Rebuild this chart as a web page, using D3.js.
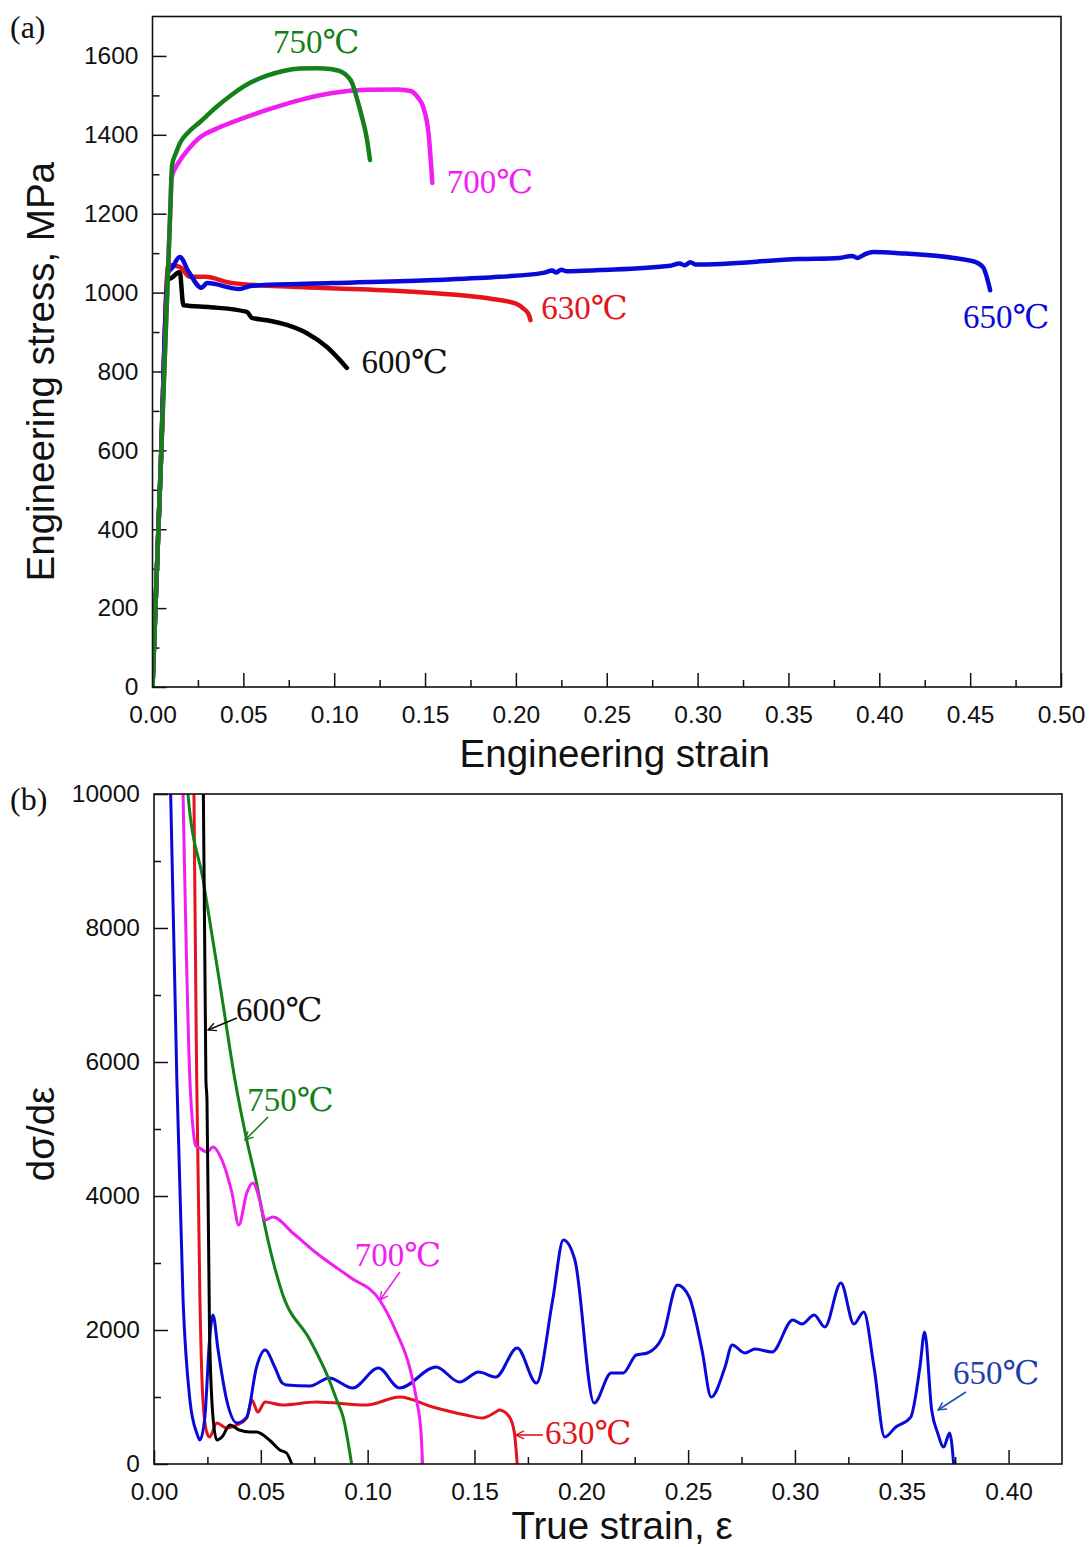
<!DOCTYPE html>
<html>
<head>
<meta charset="utf-8">
<script src="https://cdn.jsdelivr.net/npm/d3@7"></script>
<style>
  body { margin: 0; background: #fff; }
  svg { display: block; }
</style>
</head>
<body>
<svg id="chart" width="1092" height="1547"></svg>
<script>
// ---- (a) engineering stress-strain curves: [strain, stress MPa] ----
const stress600 = [[0,0],[0.0045,555],[0.0084,1032],[0.0107,1038],[0.015,1052],[0.017,968],[0.032,963],[0.052,951],[0.0547,936],[0.063,930],[0.074,918],[0.085,897],[0.096,862],[0.107,809]];
const stress630 = [[0,0],[0.0045,555],[0.0087,1070],[0.015,1065],[0.0206,1040],[0.029,1040],[0.044,1024],[0.081,1014],[0.136,1004],[0.191,981],[0.200,972],[0.204,960],[0.207,945],[0.208,930]];
const stress650 = [[0,0],[0.0045,555],[0.0085,1050],[0.0107,1062],[0.015,1090],[0.020,1052],[0.027,1012],[0.030,1024],[0.048,1009],[0.054,1017],[0.099,1024],[0.155,1032],[0.191,1040],[0.215,1050],[0.220,1056],[0.222,1051],[0.225,1058],[0.228,1054],[0.246,1057],[0.285,1068],[0.290,1074],[0.293,1069],[0.296,1077],[0.299,1071],[0.356,1085],[0.378,1088],[0.385,1093],[0.388,1088],[0.392,1097],[0.3966,1103],[0.411,1100],[0.451,1080],[0.457,1065],[0.461,1006]];
const stress700 = [[0,0],[0.0045,555],[0.0100,1235],[0.01045,1290],[0.0125,1315],[0.0151,1335],[0.020,1365],[0.026,1393],[0.035,1415],[0.044,1432],[0.063,1463],[0.081,1488],[0.099,1506],[0.118,1514],[0.135,1515],[0.142,1511],[0.146,1495],[0.149,1470],[0.152,1400],[0.154,1278]];
const stress750 = [[0,0],[0.0045,555],[0.0100,1235],[0.0107,1321],[0.0130,1355],[0.0151,1379],[0.020,1408],[0.026,1432],[0.035,1470],[0.044,1503],[0.053,1530],[0.063,1550],[0.072,1562],[0.081,1568],[0.090,1569],[0.099,1566],[0.104,1560],[0.107,1550],[0.110,1530],[0.112,1500],[0.115,1450],[0.118,1390],[0.1197,1336]];

// ---- (b) work hardening rate: [true strain, dσ/dε] ----
const rate600 = [[0.0229,11000],[0.0231,10000],[0.0243,5731],[0.0248,5433],[0.026,1955],[0.0276,702],[0.0294,358],[0.0318,403],[0.0355,582],[0.040,507],[0.0449,478],[0.048,478],[0.054,358],[0.0589,209],[0.062,164],[0.0645,0]];
const rate630 = [[0.0185,11000],[0.0187,10000],[0.020,5731],[0.0215,2448],[0.0229,955],[0.0248,463],[0.026,403],[0.0294,612],[0.034,537],[0.0388,582],[0.0434,686],[0.0458,955],[0.0486,776],[0.052,925],[0.060,880],[0.076,925],[0.0995,880],[0.115,1000],[0.1304,851],[0.146,731],[0.1537,686],[0.160,776],[0.1617,806],[0.1664,701],[0.1687,463],[0.170,0]];
const rate650 = [[0.0070,11000],[0.0078,10000],[0.0107,5731],[0.0136,2448],[0.0168,955],[0.020,463],[0.0215,358],[0.0238,700],[0.026,1850],[0.0276,2224],[0.030,1700],[0.034,955],[0.0388,612],[0.0434,700],[0.048,1448],[0.052,1700],[0.0565,1448],[0.060,1209],[0.062,1180],[0.073,1164],[0.082,1284],[0.093,1134],[0.105,1433],[0.115,1134],[0.132,1448],[0.143,1224],[0.152,1373],[0.160,1298],[0.170,1731],[0.179,1209],[0.1866,2448],[0.1916,3343],[0.197,3045],[0.206,910],[0.214,1358],[0.2196,1358],[0.2257,1627],[0.231,1657],[0.238,1896],[0.245,2672],[0.2505,2493],[0.2565,1701],[0.2608,1000],[0.2673,1448],[0.2706,1776],[0.2766,1657],[0.2813,1716],[0.2893,1672],[0.299,2149],[0.3033,2090],[0.309,2224],[0.314,2045],[0.3215,2701],[0.3276,2090],[0.3322,2269],[0.337,1448],[0.342,403],[0.3472,552],[0.3542,701],[0.3585,1448],[0.3607,1970],[0.364,806],[0.3668,463],[0.3696,254],[0.3724,463],[0.3743,0]];
const rate700 = [[0.0130,11000],[0.0136,10000],[0.0168,5731],[0.0183,5000],[0.0195,4750],[0.0206,4731],[0.0248,4657],[0.0276,4731],[0.0318,4537],[0.0365,4045],[0.0397,3567],[0.0434,4045],[0.0463,4194],[0.0495,3940],[0.052,3642],[0.0556,3687],[0.065,3448],[0.076,3149],[0.0916,2791],[0.1056,2448],[0.1136,1955],[0.1196,1448],[0.1229,955],[0.125,463],[0.1257,0]];
const rate750 = [[0.0150,11000],[0.0159,10000],[0.023,8716],[0.032,6925],[0.0379,5731],[0.0434,4836],[0.048,4194],[0.052,3537],[0.060,2552],[0.073,1851],[0.082,1254],[0.0855,955],[0.0885,702],[0.0925,0]];

// tick values
const ticksXA = [0,0.05,0.10,0.15,0.20,0.25,0.30,0.35,0.40,0.45,0.50];
const ticksYA = [0,200,400,600,800,1000,1200,1400,1600];
const ticksXB = [0,0.05,0.10,0.15,0.20,0.25,0.30,0.35,0.40];
const ticksYB = [0,2000,4000,6000,8000,10000];

const colors = { c600: "#000000", c630: "#e5141c", c650: "#0a0ad8", c700: "#f01ef0", c750: "#13801a" };

// ---- helpers ----
const svg = d3.select("#chart");
const sansFont = "'Liberation Sans', Arial, sans-serif";
const serifFont = "'Liberation Serif', 'Times New Roman', 'DejaVu Serif', serif";

const defs = svg.append("defs");

function arrowMarker(id, col) {
  defs.append("marker")
    .attr("id", id)
    .attr("viewBox", "0 0 10 10")
    .attr("refX", 9).attr("refY", 5)
    .attr("markerWidth", 10).attr("markerHeight", 10)
    .attr("markerUnits", "userSpaceOnUse")
    .attr("orient", "auto")
    .append("path")
    .attr("d", "M1,1 L9,5 L1,9")
    .attr("fill", "none")
    .attr("stroke", col)
    .attr("stroke-width", 1.4);
}

function makePanel(opt) {
  const x = d3.scaleLinear().domain(opt.xDomain).range([opt.left, opt.right]);
  const y = d3.scaleLinear().domain(opt.yDomain).range([opt.bottom, opt.top]);
  const g = svg.append("g");

  defs.append("clipPath").attr("id", opt.id + "-clip")
    .append("rect")
    .attr("x", opt.left).attr("y", opt.top)
    .attr("width", opt.right - opt.left).attr("height", opt.bottom - opt.top);

  // minor ticks
  g.append("g")
    .attr("transform", `translate(0,${opt.bottom})`)
    .call(d3.axisBottom(x).tickValues(opt.minorX).tickSize(-7).tickSizeOuter(0).tickFormat(""))
    .call(s => s.select(".domain").remove());
  g.append("g")
    .attr("transform", `translate(${opt.left},0)`)
    .call(d3.axisLeft(y).tickValues(opt.minorY).tickSize(-7).tickSizeOuter(0).tickFormat(""))
    .call(s => s.select(".domain").remove());

  // major ticks
  const ax = g.append("g")
    .attr("transform", `translate(0,${opt.bottom})`)
    .call(d3.axisBottom(x).tickValues(opt.ticksX).tickSize(-14).tickSizeOuter(0).tickPadding(19).tickFormat(d3.format(".2f")));
  const ay = g.append("g")
    .attr("transform", `translate(${opt.left},0)`)
    .call(d3.axisLeft(y).tickValues(opt.ticksY).tickSize(-14).tickSizeOuter(0).tickPadding(14).tickFormat(d3.format("d")));
  [ax, ay].forEach(a => {
    a.select(".domain").remove();
    a.selectAll("text").attr("font-family", sansFont).attr("font-size", 24.5).attr("fill", "#111");
  });
  g.selectAll(".tick line").attr("stroke", "#111").attr("stroke-width", 1.5);

  // curves
  const line = d3.line().x(d => x(d[0])).y(d => y(d[1])).curve(d3.curveMonotoneX);
  const lines = g.append("g").attr("clip-path", `url(#${opt.id}-clip)`);
  opt.series.forEach(s => {
    lines.append("path")
      .datum(s.data)
      .attr("d", line)
      .attr("fill", "none")
      .attr("stroke", s.color)
      .attr("stroke-width", opt.lineWidth)
      .attr("stroke-linejoin", "round")
      .attr("stroke-linecap", "round");
  });

  // frame
  g.append("rect")
    .attr("x", opt.left).attr("y", opt.top)
    .attr("width", opt.right - opt.left).attr("height", opt.bottom - opt.top)
    .attr("fill", "none").attr("stroke", "#111").attr("stroke-width", 1.6);

  // labels
  opt.labels.forEach(l => {
    g.append("text")
      .attr("x", x(l.at[0])).attr("y", y(l.at[1]))
      .attr("font-family", serifFont).attr("font-size", 33)
      .attr("fill", l.color)
      .text(l.text);
    if (l.arrow) {
      g.append("line")
        .attr("x1", x(l.arrow[0][0])).attr("y1", y(l.arrow[0][1]))
        .attr("x2", x(l.arrow[1][0])).attr("y2", y(l.arrow[1][1]))
        .attr("stroke", l.arrowColor || l.color).attr("stroke-width", 1.6)
        .attr("marker-end", `url(#${l.marker})`);
    }
  });

  // axis titles
  g.append("text")
    .attr("x", (opt.left + opt.right) / 2 + opt.xTitleShift).attr("y", opt.xTitleY)
    .attr("text-anchor", "middle")
    .attr("font-family", sansFont).attr("font-size", 38.5).attr("fill", "#111")
    .text(opt.xTitle);
  g.append("text")
    .attr("transform", `translate(54,${(opt.top + opt.bottom) / 2 + opt.yTitleShift}) rotate(-90)`)
    .attr("text-anchor", "middle")
    .attr("font-family", sansFont).attr("font-size", 38.5).attr("fill", "#111")
    .text(opt.yTitle);

  // panel letter
  g.append("text")
    .attr("x", 10).attr("y", opt.letterY)
    .attr("font-family", serifFont).attr("font-size", 32).attr("fill", "#111")
    .text(opt.letter);
}

arrowMarker("arr-black", "#111");
arrowMarker("arr-green", colors.c750);
arrowMarker("arr-mag", colors.c700);
arrowMarker("arr-red", colors.c630);
arrowMarker("arr-blue", "#1f4fae");

makePanel({
  id: "pa",
  left: 152.5, right: 1061, top: 16.5, bottom: 687,
  xDomain: [0, 0.5], yDomain: [0, 1700],
  ticksX: ticksXA, ticksY: ticksYA,
  minorX: d3.range(0.025, 0.5, 0.05), minorY: d3.range(100, 1700, 200),
  lineWidth: 4.5,
  series: [
    { data: stress600, color: colors.c600 },
    { data: stress630, color: colors.c630 },
    { data: stress650, color: colors.c650 },
    { data: stress700, color: colors.c700 },
    { data: stress750, color: colors.c750 }
  ],
  labels: [
    { text: "750℃", at: [0.0663, 1608], color: colors.c750 },
    { text: "700℃", at: [0.162, 1253], color: colors.c700 },
    { text: "630℃", at: [0.214, 933], color: colors.c630 },
    { text: "600℃", at: [0.115, 796], color: "#111" },
    { text: "650℃", at: [0.446, 910], color: colors.c650 }
  ],
  xTitle: "Engineering strain", xTitleY: 767, xTitleShift: 8,
  yTitle: "Engineering stress, MPa", yTitleShift: 20,
  letter: "(a)", letterY: 38
});

makePanel({
  id: "pb",
  left: 154, right: 1062, top: 794, bottom: 1464,
  xDomain: [0, 0.425], yDomain: [0, 10000],
  ticksX: ticksXB, ticksY: ticksYB,
  minorX: d3.range(0.025, 0.425, 0.05), minorY: d3.range(1000, 10000, 2000),
  lineWidth: 3,
  series: [
    { data: rate630, color: colors.c630 },
    { data: rate650, color: colors.c650 },
    { data: rate750, color: colors.c750 },
    { data: rate700, color: colors.c700 },
    { data: rate600, color: colors.c600 }
  ],
  labels: [
    { text: "600℃", at: [0.0384, 6612], color: "#111", arrow: [[0.0388, 6657], [0.0253, 6478]], marker: "arr-black" },
    { text: "750℃", at: [0.0436, 5269], color: colors.c750, arrow: [[0.0534, 5179], [0.0426, 4836]], marker: "arr-green" },
    { text: "700℃", at: [0.094, 2955], color: colors.c700, arrow: [[0.1151, 2866], [0.1058, 2448]], marker: "arr-mag" },
    { text: "630℃", at: [0.183, 299], color: colors.c630, arrow: [[0.182, 433], [0.1694, 433]], marker: "arr-red" },
    { text: "650℃", at: [0.374, 1194], color: "#1f3fae", arrow: [[0.380, 1075], [0.367, 806]], marker: "arr-blue", arrowColor: "#1f4fae" }
  ],
  xTitle: "True strain, ε", xTitleY: 1539, xTitleShift: 14,
  yTitle: "dσ/dε", yTitleShift: 5,
  letter: "(b)", letterY: 810
});
</script>
</body>
</html>
